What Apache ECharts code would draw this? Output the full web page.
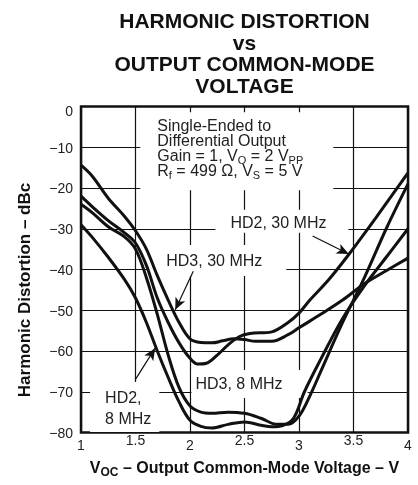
<!DOCTYPE html>
<html>
<head>
<meta charset="utf-8">
<script src="https://cdn.jsdelivr.net/npm/echarts@6/dist/echarts.min.js"></script>
<style>
html,body{margin:0;padding:0;background:#fff;}
#c{width:418px;height:485px;}
</style>
</head>
<body>
<div id="c"></div>
<script>
// ---- data (V_OC in volts, distortion in dBc) ----
const xTicks = [1, 1.5, 2, 2.5, 3, 3.5, 4];
const yTicks = [-80, -70, -60, -50, -40, -30, -20, -10, 0];

const hd3_30MHz = [[1.0,-14.4],[1.1,-17],[1.25,-22.5],[1.4,-27],[1.5,-30.5],[1.6,-35],[1.7,-41.5],[1.8,-47.5],[1.9,-53],[2.0,-57],[2.1,-57.9],[2.2,-58],[2.3,-57.5],[2.4,-57],[2.5,-57.2],[2.6,-57.6],[2.75,-57.6],[2.9,-56],[3.0,-54.3],[3.2,-51],[3.4,-47.5],[3.6,-43.5],[3.8,-40.3],[4.0,-37.2]];
const hd2_30MHz = [[1.0,-22],[1.1,-24.5],[1.25,-28],[1.4,-31],[1.5,-33.5],[1.6,-39],[1.7,-47],[1.8,-53],[1.9,-58],[2.0,-61.8],[2.07,-63.2],[2.15,-63],[2.25,-61],[2.35,-58.5],[2.45,-56.5],[2.55,-55.7],[2.75,-55.3],[2.9,-53],[3.0,-50.7],[3.1,-47.5],[3.27,-42.6],[3.46,-36.2],[3.7,-27.5],[4.0,-16.3]];
const hd3_8MHz = [[1.0,-24],[1.1,-26],[1.25,-29.5],[1.4,-32],[1.5,-35],[1.6,-42],[1.7,-51],[1.8,-61],[1.9,-69],[2.0,-73.5],[2.1,-75],[2.2,-75.3],[2.35,-75],[2.5,-75.3],[2.65,-76.5],[2.8,-78],[2.9,-78],[3.0,-76],[3.1,-71],[3.2,-65],[3.4,-53],[3.6,-42],[3.8,-30],[4.0,-19]];
const hd2_8MHz = [[1.0,-29],[1.1,-32],[1.25,-37],[1.4,-42.5],[1.5,-47],[1.6,-53],[1.7,-60],[1.8,-66.5],[1.9,-72.5],[2.0,-77],[2.1,-78.5],[2.2,-78.9],[2.35,-78],[2.5,-77.4],[2.65,-78.2],[2.75,-78.6],[2.85,-78.3],[2.95,-76.5],[3.05,-70],[3.2,-62],[3.4,-52],[3.6,-44],[3.8,-37],[4.0,-30]];

// arrows: [from, to] in data coordinates
const arrowHD2_30 = [[3.125,-31.8],[3.456,-36.2]];
const arrowHD3_30 = [[2.03,-40.4],[1.865,-49.9]];
const arrowHD2_8  = [[1.497,-67.1],[1.68,-59.3]];

const chart = echarts.init(document.getElementById('c'), null, {renderer:'canvas'});
const FONT = 'Liberation Sans, Arial, Helvetica, sans-serif';

function mkSeries(name, data, extra) {
  return Object.assign({
    name: name, type: 'line', data: data, showSymbol: false, smooth: 0.35,
    lineStyle: {color:'#111', width: 3}, silent: true, z: 3, animation: false
  }, extra || {});
}

const arrowLines = [arrowHD2_30, arrowHD3_30, arrowHD2_8].map(a => [{coord: a[0]}, {coord: a[1]}]);

chart.setOption({
  animation: false,
  backgroundColor: '#fff',
  grid: {left: 81, right: 10, top: 106.5, bottom: 52.5, show: true, borderColor: '#111', borderWidth: 2.5, backgroundColor: 'transparent'},
  xAxis: {
    type: 'value', min: 1, max: 4, interval: 0.5,
    axisLine: {show: false}, axisTick: {show: false},
    splitLine: {show: true, lineStyle: {color: '#111', width: 1.2}},
    axisLabel: {
      margin: 2, fontFamily: FONT, fontSize: 14, color: '#222',
      formatter: v => Number.isInteger(v) ? '{lo|' + v + '}' : '{hi|' + v + '}',
      rich: {lo: {lineHeight: 24, fontSize: 14, fontFamily: FONT, color:'#222'}, hi: {lineHeight: 14, fontSize: 14, fontFamily: FONT, color:'#222'}}
    },
    name: '{n|V}{s|OC}{n| – Output Common-Mode Voltage – V}',
    nameLocation: 'middle', nameGap: 26,
    nameTextStyle: {
      rich: {
        n: {fontFamily: FONT, fontWeight: 'bold', fontSize: 16, lineHeight: 16, color: '#111'},
        s: {fontFamily: FONT, fontWeight: 'bold', fontSize: 12, lineHeight: 8, padding: [8,0,0,0], color: '#111'}
      }
    }
  },
  yAxis: {
    type: 'value', min: -80, max: 0, interval: 10,
    axisLine: {show: false}, axisTick: {show: false},
    splitLine: {show: true, lineStyle: {color: '#111', width: 1.2}},
    axisLabel: {margin: 8, fontFamily: FONT, fontSize: 14, color: '#222',
      formatter: v => v === 0 ? '{z|0}' : '{n|\u2212' + Math.abs(v) + '}',
      rich: {z: {fontFamily: FONT, fontSize: 14, color: '#222', lineHeight: 14, padding: [12,0,0,0]},
             n: {fontFamily: FONT, fontSize: 14, color: '#222', lineHeight: 14, padding: [3,0,0,0]}}}
  },
  series: [
    mkSeries('HD3, 30 MHz', hd3_30MHz, {
      markLine: {
        silent: true, symbol: ['none', 'arrow'], symbolSize: [8, 12],
        lineStyle: {color: '#111', width: 1.2, type: 'solid'}, label: {show: false},
        data: arrowLines, animation: false
      }
    }),
    mkSeries('HD2, 30 MHz', hd2_30MHz),
    mkSeries('HD3, 8 MHz', hd3_8MHz),
    mkSeries('HD2, 8 MHz', hd2_8MHz)
  ]
});

// annotation labels placed at data coordinates (text top-left), padding = white mask
function px(v, d) { return chart.convertToPixel({gridIndex: 0}, [v, d]); }
const subRich = {fontFamily: FONT, fontSize: 11, lineHeight: 7, padding: [8,0,0,0], fill:'#222'};
function label(v, d, text, pad, lh, extra) {
  const p = px(v, d);
  return {type: 'text', z: 1, x: p[0] - pad[3], y: p[1] - pad[0], style: Object.assign({
    text: text, fontFamily: FONT, fontSize: 16, fill: '#222', lineHeight: lh,
    backgroundColor: '#fff', padding: pad}, extra || {})};
}
chart.setOption({
  graphic: [
    {type: 'text', x: 244.5, y: 11.75, style: {
      text: 'HARMONIC DISTORTION\nvs\nOUTPUT COMMON-MODE\nVOLTAGE', align: 'center', verticalAlign: 'top',
      fontFamily: FONT, fontWeight: 'bold', fontSize: 21, lineHeight: 21.5, fill: '#111'}},
    {type: 'text', x: 25, y: 290, rotation: Math.PI / 2, style: {
      text: 'Harmonic Distortion – dBc', align: 'center', verticalAlign: 'middle',
      fontFamily: FONT, fontWeight: 'bold', fontSize: 17, fill: '#111'}},
    label(1.70, -3.1, '{n|Single-Ended to}\n{n|Differential Output}\n{n|Gain = 1, V}{s|O}{n| = 2 V}{s|PP}\n{n|R}{s|f}{n| = 499 Ω, V}{s|S}{n| = 5 V}',
      [7, 30, 11, 17], 15, {rich: {n: {fontFamily: FONT, fontSize: 16, lineHeight: 15, fill:'#222'}, s: subRich}}),
    label(2.371, -26.8, 'HD2, 30 MHz', [6, 22, 1, 15], 16),
    label(1.782, -36.2, 'HD3, 30 MHz', [9, 24, 6, 18], 16),
    label(2.05, -66.4, 'HD3, 8 MHz', [7, 25, 5, 4], 16),
    label(1.221, -69.1, 'HD2,\n8 MHz', [6, 8, 2, 15], 21)
  ]
});
</script>
</body>
</html>
